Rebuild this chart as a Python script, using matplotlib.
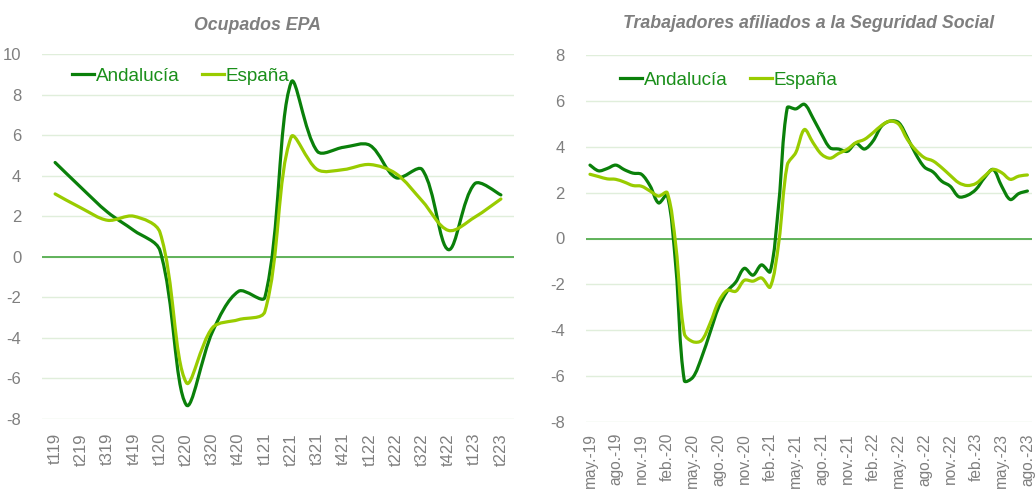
import matplotlib
matplotlib.use('Agg')
import matplotlib.pyplot as plt
import numpy as np
from matplotlib.path import Path
from matplotlib.patches import PathPatch
from matplotlib.lines import Line2D

plt.rcParams['font.family'] = ['Liberation Sans', 'DejaVu Sans']
plt.rcParams['axes.unicode_minus'] = False

# Data - Ocupados EPA (quarterly, % yoy)
quarters = ['t119', 't219', 't319', 't419', 't120', 't220', 't320', 't420', 't121',
            't221', 't321', 't421', 't122', 't222', 't322', 't422', 't123', 't223']
epa_andalucia = [4.65, 3.4, 2.2, 1.3, 0.3, -7.3, -3.7, -1.7, -2.0,
                 8.6, 5.2, 5.4, 5.5, 3.9, 4.3, 0.35, 3.6, 3.05]
epa_espana = [3.1, 2.4, 1.8, 2.0, 1.2, -6.2, -3.5, -3.1, -2.7,
              5.9, 4.3, 4.3, 4.55, 4.1, 2.75, 1.3, 1.95, 2.85]

# Data - Afiliados a la Seguridad Social (monthly, may-19 .. ago-23)
afil_andalucia = [3.2, 2.95, 3.05, 3.2, 3.0, 2.85, 2.8, 2.3, 1.55, 1.9,
                  -1.2, -6.2, -6.05, -5.2, -4.1, -3.0, -2.3, -1.9, -1.3, -1.6,
                  -1.15, -1.45, 1.5, 5.7, 5.65, 5.85, 5.25, 4.55, 3.95, 3.9,
                  3.8, 4.15, 3.9, 4.25, 4.9, 5.12, 5.05, 4.4, 3.67, 3.11,
                  2.9, 2.5, 2.28, 1.82, 1.88, 2.14, 2.65, 3.01, 2.28, 1.7,
                  1.96, 2.07]
afil_espana = [2.8, 2.7, 2.6, 2.58, 2.46, 2.31, 2.28, 2.07, 1.85, 2.0,
               -0.3, -4.15, -4.5, -4.45, -3.7, -2.75, -2.26, -2.3, -1.82, -1.86,
               -1.72, -2.12, -0.2, 3.2, 3.75, 4.75, 4.18, 3.67, 3.5, 3.71,
               3.89, 4.18, 4.32, 4.61, 4.93, 5.12, 4.98, 4.32, 3.85, 3.52,
               3.38, 3.09, 2.75, 2.43, 2.31, 2.40, 2.72, 3.01, 2.87, 2.58,
               2.72, 2.77]
month_labels = ['may.-19', 'ago.-19', 'nov.-19', 'feb.-20', 'may.-20', 'ago.-20',
                'nov.-20', 'feb.-21', 'may.-21', 'ago.-21', 'nov.-21', 'feb.-22',
                'may.-22', 'ago.-22', 'nov.-22', 'feb.-23', 'may.-23', 'ago.-23']

# Colors
dark_green = '#0a800a'
light_green = '#99cc00'
text_green = '#1a8f1a'
grid_color = '#e0eedb'
zero_color = '#55ad4f'
gray = '#7f7f7f'


def smooth_line(ax, y, color):
    # Excel-like smoothed line: Bezier segments, tangents weighted by segment length on screen
    x = np.arange(len(y), dtype=float)
    y = np.asarray(y, dtype=float)
    pts = np.column_stack([x, y])
    scr = ax.transData.transform(pts)
    n = len(pts)
    d = np.hypot(*np.diff(scr, axis=0).T)  # screen length of each segment
    tang = np.zeros_like(pts)
    tang[1:-1] = pts[2:] - pts[:-2]
    tang[0] = pts[1] - pts[0]
    tang[-1] = pts[-1] - pts[-2]
    verts = [tuple(pts[0])]
    codes = [Path.MOVETO]
    k = 1 / 3
    for i in range(n - 1):
        w1 = d[i] / (d[i - 1] + d[i]) if i > 0 else 0.5
        w2 = d[i] / (d[i] + d[i + 1]) if i < n - 2 else 0.5
        c1 = pts[i] + tang[i] * k * w1
        c2 = pts[i + 1] - tang[i + 1] * k * w2
        verts += [tuple(c1), tuple(c2), tuple(pts[i + 1])]
        codes += [Path.CURVE4] * 3
    ax.add_patch(PathPatch(Path(verts, codes), fill=False, ec=color, lw=2.3,
                           capstyle='round', joinstyle='round', zorder=3))


def style_axes(ax, ylim, step):
    ax.set_ylim(*ylim)
    ax.set_yticks(np.arange(ylim[0], ylim[1] + 1, step))
    for s in ax.spines.values():
        s.set_visible(False)
    ax.grid(axis='y', color=grid_color, lw=1)
    ax.set_axisbelow(True)
    ax.axhline(0, color=zero_color, lw=1.3, zorder=2)
    ax.tick_params(length=0, colors=gray, labelsize=12)
    ax.tick_params(axis='y', pad=15)
    ax.tick_params(axis='x', pad=10)


fig = plt.figure(figsize=(10.35, 4.91), dpi=100)

# Left: Ocupados EPA
ax1 = fig.add_axes([42 / 1035, 1 - 419 / 491, 472 / 1035, 365 / 491])
style_axes(ax1, (-8, 10), 2)
ax1.set_xlim(-0.5, len(quarters) - 0.5)
ax1.set_xticks(range(len(quarters)))
ax1.set_xticklabels(quarters, rotation=90)
smooth_line(ax1, epa_andalucia, dark_green)
smooth_line(ax1, epa_espana, light_green)
fig.text(258 / 1035, 1 - 25 / 491, 'Ocupados EPA', ha='center', va='center',
         fontsize=12.8, fontweight='bold', style='italic', color=gray)

# Right: Afiliados
ax2 = fig.add_axes([585.7 / 1035, 1 - 422 / 491, 446 / 1035, 367 / 491])
style_axes(ax2, (-8, 8), 2)
ax2.set_xlim(-0.5, len(afil_andalucia) - 0.5)
ax2.set_xticks(range(0, len(afil_andalucia), 3))
ax2.set_xticklabels(month_labels, rotation=90)
ax2.tick_params(axis='x', labelsize=11.2, pad=8)  # keep the longest labels inside the figure
smooth_line(ax2, afil_andalucia, dark_green)
smooth_line(ax2, afil_espana, light_green)
fig.text(809 / 1035, 1 - 23 / 491, 'Trabajadores afiliados a la Seguridad Social',
         ha='center', va='center', fontsize=12.8, fontweight='bold', style='italic', color=gray)

handles = [Line2D([], [], color=dark_green, lw=2.3), Line2D([], [], color=light_green, lw=2.3)]
for ax, anchor in [(ax1, (0.0636, 0.94)), (ax2, (0.0769, 0.932))]:
    leg = ax.legend(handles, ['Andalucía', 'España'], loc='center left', bbox_to_anchor=anchor,
                    ncol=2, frameon=False, fontsize=13.6, borderpad=0, borderaxespad=0,
                    handlelength=1.15, handletextpad=0.1, columnspacing=1.2)
    for t in leg.get_texts():
        t.set_color(text_green)

fig.savefig('out.png', dpi=100, facecolor='white')
